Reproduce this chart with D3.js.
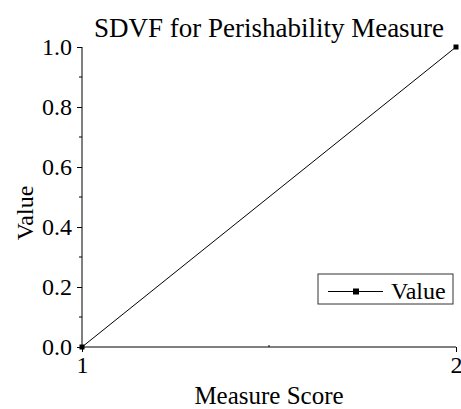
<!DOCTYPE html>
<html>
<head>
<meta charset="utf-8">
<script src="https://cdn.jsdelivr.net/npm/d3@7"></script>
</head>
<body style="margin:0;background:#fff">
<svg id="chart" width="461" height="409" style="display:block"></svg>
<script>
const scores = [1, 2];
const values = [0, 1];
const xTicks = [1, 2];
const yTicks = [0, 0.2, 0.4, 0.6, 0.8, 1.0];
const yMinor = [0.1, 0.3, 0.5, 0.7, 0.9];
const xMinor = [1.5];
const title = "SDVF for Perishability Measure";
const seriesName = "Value";

const FONT = "Liberation Serif";
const svg = d3.select("#chart");
const margins = { top: 47, right: 5, bottom: 62, left: 82 };
const width = 461, height = 409;

const x = d3.scaleLinear().domain([1, 2]).range([margins.left, width - margins.right]);
const y = d3.scaleLinear().domain([0, 1]).range([height - margins.bottom, margins.top]);

// y axis
const yAxis = svg.append("g")
  .attr("transform", `translate(${x(1)},0)`)
  .call(d3.axisLeft(y).tickValues(yTicks).tickFormat(d3.format(".1f")).tickSize(5).tickPadding(5));
yAxis.select(".domain").attr("d", `M0,${y(1)}V${y(0)}`).attr("stroke", "#000");
yAxis.selectAll("text").attr("fill", "#000").attr("dy", "0.33em").attr("font-size", 24);
svg.append("g").selectAll("line").data(yMinor).join("line")
  .attr("x1", x(1) - 3).attr("x2", x(1))
  .attr("y1", d => y(d)).attr("y2", d => y(d))
  .attr("stroke", "#000");

// x axis
const xAxis = svg.append("g")
  .attr("transform", `translate(0,${y(0)})`)
  .call(d3.axisBottom(x).tickValues(xTicks).tickFormat(d3.format("d")).tickSize(5).tickPadding(4));
xAxis.select(".domain").attr("d", `M${x(1)},0H${x(2)}`).attr("stroke", "#000");
xAxis.selectAll("text").attr("fill", "#000").attr("font-size", 24);
svg.append("g").selectAll("line").data(xMinor).join("line")
  .attr("x1", d => x(d)).attr("x2", d => x(d))
  .attr("y1", y(0) - 2).attr("y2", y(0))
  .attr("stroke", "#000");

// line + markers
const pts = scores.map((s, i) => ({ s, v: values[i] }));
svg.append("path")
  .datum(pts)
  .attr("fill", "none")
  .attr("stroke", "#000")
  .attr("stroke-width", 1)
  .attr("d", d3.line().x(d => x(d.s)).y(d => y(d.v)));
svg.append("g").selectAll("rect").data(pts).join("rect")
  .attr("x", d => x(d.s) - 2.5).attr("y", d => y(d.v) - 2.5)
  .attr("width", 5).attr("height", 5)
  .attr("fill", "#000");

// title and axis labels
svg.append("text")
  .attr("x", (x(1) + x(2)) / 2).attr("y", 37)
  .attr("text-anchor", "middle")
  .attr("font-size", 27)
  .text(title);
svg.append("text")
  .attr("x", (x(1) + x(2)) / 2).attr("y", 404)
  .attr("text-anchor", "middle")
  .attr("font-size", 25)
  .text("Measure Score");
svg.append("text")
  .attr("transform", `translate(33,213) rotate(-90)`)
  .attr("text-anchor", "middle")
  .attr("font-size", 24)
  .text("Value");

// legend
const legend = svg.append("g").attr("transform", "translate(318,274)");
legend.append("rect")
  .attr("width", 135).attr("height", 30)
  .attr("fill", "#fff").attr("stroke", "#333");
legend.append("line")
  .attr("x1", 10).attr("x2", 65).attr("y1", 17.5).attr("y2", 17.5)
  .attr("stroke", "#000");
legend.append("rect")
  .attr("x", 35).attr("y", 14.5).attr("width", 6).attr("height", 6)
  .attr("fill", "#000");
legend.append("text")
  .attr("x", 73).attr("y", 25)
  .attr("font-size", 24)
  .text(seriesName);

// serif everywhere
svg.selectAll("text").attr("font-family", FONT).style("font-family", FONT);
</script>
</body>
</html>
